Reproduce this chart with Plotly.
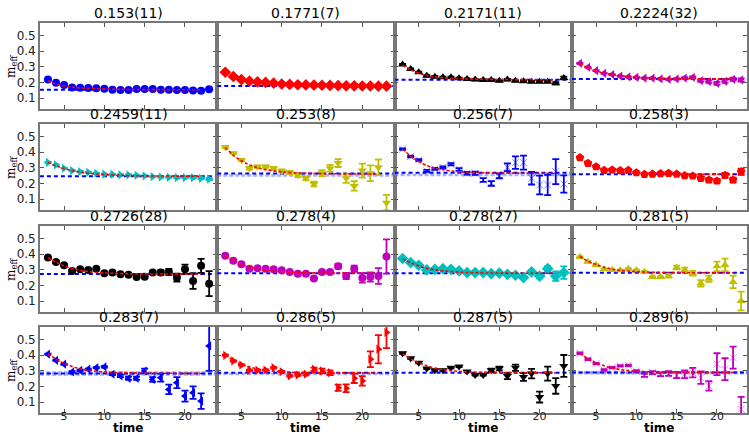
import plotly.graph_objects as go

times = list(range(3, 24))
titles = ["0.153(11)", "0.1771(7)", "0.2171(11)", "0.2224(32)",
          "0.2459(11)", "0.253(8)", "0.256(7)", "0.258(3)",
          "0.2726(28)", "0.278(4)", "0.278(27)", "0.281(5)",
          "0.283(7)", "0.286(5)", "0.287(5)", "0.289(6)"]

m1 = [0.218, 0.198, 0.183, 0.168, 0.166, 0.164, 0.162, 0.160, 0.153, 0.151, 0.151, 0.158, 0.158, 0.158, 0.153, 0.153, 0.151, 0.151, 0.149, 0.147, 0.156]
e1 = [0.002] * 18 + [0.003, 0.003, 0.004]
m2 = [0.265, 0.238, 0.218, 0.208, 0.203, 0.200, 0.195, 0.190, 0.187, 0.185, 0.184, 0.183, 0.182, 0.181, 0.180, 0.178, 0.178, 0.177, 0.177, 0.176, 0.176]
e2 = [0.002] * 21
m3 = [0.314, 0.286, 0.265, 0.243, 0.237, 0.233, 0.233, 0.226, 0.222, 0.218, 0.216, 0.216, 0.211, 0.218, 0.211, 0.207, 0.205, 0.205, 0.205, 0.194, 0.228]
e3 = [0.004] * 18 + [0.005, 0.007, 0.009]
m4 = [0.322, 0.297, 0.275, 0.258, 0.250, 0.241, 0.235, 0.233, 0.228, 0.228, 0.222, 0.220, 0.222, 0.228, 0.233, 0.211, 0.205, 0.194, 0.207, 0.220, 0.216]
e4 = [0.003] * 12 + [0.004, 0.005, 0.005, 0.007, 0.008, 0.009, 0.01, 0.01, 0.01]
m5 = [0.335, 0.318, 0.297, 0.282, 0.275, 0.271, 0.265, 0.260, 0.258, 0.254, 0.254, 0.252, 0.248, 0.243, 0.241, 0.239, 0.237, 0.237, 0.237, 0.233, 0.228]
e5 = [0.003] * 16 + [0.004, 0.004, 0.005, 0.005, 0.006]
m6 = [0.432, 0.393, 0.350, 0.297, 0.307, 0.307, 0.297, 0.280, 0.270, 0.252, 0.233, 0.196, 0.265, 0.297, 0.330, 0.233, 0.184, 0.282, 0.265, 0.303, 0.077]
e6 = [0.006, 0.006, 0.007, 0.008, 0.008, 0.008, 0.009, 0.010, 0.010, 0.012, 0.012, 0.015, 0.020, 0.022, 0.025, 0.030, 0.030, 0.045, 0.050, 0.050, 0.050]
m7 = [0.419, 0.372, 0.350, 0.280, 0.293, 0.303, 0.322, 0.290, 0.265, 0.265, 0.222, 0.200, 0.248, 0.303, 0.333, 0.333, 0.233, 0.190, 0.190, 0.275, 0.196]
e7 = [0.005, 0.005, 0.005, 0.006, 0.006, 0.006, 0.007, 0.008, 0.008, 0.010, 0.012, 0.015, 0.015, 0.025, 0.040, 0.045, 0.040, 0.060, 0.065, 0.080, 0.055]
m8 = [0.365, 0.329, 0.307, 0.284, 0.286, 0.282, 0.284, 0.269, 0.258, 0.260, 0.263, 0.265, 0.260, 0.250, 0.248, 0.233, 0.222, 0.216, 0.252, 0.222, 0.275]
e8 = [0.004] * 14 + [0.008, 0.010, 0.012, 0.012, 0.015, 0.015, 0.020]
m9 = [0.378, 0.350, 0.329, 0.293, 0.303, 0.299, 0.307, 0.278, 0.282, 0.271, 0.269, 0.254, 0.256, 0.282, 0.282, 0.286, 0.250, 0.303, 0.228, 0.325, 0.211]
e9 = [0.005] * 13 + [0.010, 0.015, 0.020, 0.025, 0.030, 0.050, 0.045, 0.080, 0.080]
m10 = [0.389, 0.357, 0.335, 0.307, 0.310, 0.307, 0.303, 0.297, 0.286, 0.275, 0.275, 0.245, 0.286, 0.286, 0.322, 0.260, 0.307, 0.248, 0.254, 0.260, 0.385]
e10 = [0.005] * 13 + [0.010, 0.015, 0.020, 0.020, 0.030, 0.030, 0.050, 0.110]
m11 = [0.372, 0.346, 0.329, 0.299, 0.303, 0.307, 0.303, 0.293, 0.282, 0.282, 0.282, 0.275, 0.278, 0.271, 0.265, 0.250, 0.286, 0.260, 0.307, 0.260, 0.282]
e11 = [0.004] * 16 + [0.010, 0.015, 0.015, 0.030, 0.040]
m12 = [0.382, 0.352, 0.331, 0.303, 0.299, 0.297, 0.307, 0.297, 0.288, 0.254, 0.254, 0.260, 0.314, 0.299, 0.278, 0.213, 0.243, 0.322, 0.331, 0.222, 0.100]
e12 = [0.004] * 11 + [0.010, 0.012, 0.015, 0.015, 0.020, 0.020, 0.030, 0.040, 0.040, 0.060]
m13 = [0.406, 0.367, 0.342, 0.293, 0.303, 0.310, 0.320, 0.325, 0.278, 0.267, 0.252, 0.252, 0.299, 0.245, 0.256, 0.181, 0.224, 0.138, 0.160, 0.106, 0.459]
e13 = [0.004] * 8 + [0.006, 0.008, 0.010, 0.010, 0.015, 0.015, 0.025, 0.030, 0.035, 0.035, 0.040, 0.050, 0.160]
m14 = [0.399, 0.363, 0.337, 0.303, 0.303, 0.305, 0.320, 0.295, 0.267, 0.273, 0.278, 0.310, 0.299, 0.288, 0.192, 0.188, 0.252, 0.235, 0.374, 0.438, 0.545]
e14 = [0.004] * 9 + [0.006, 0.008, 0.010, 0.015, 0.015, 0.020, 0.025, 0.030, 0.030, 0.050, 0.090, 0.100]
m15 = [0.412, 0.380, 0.352, 0.314, 0.303, 0.303, 0.320, 0.327, 0.295, 0.273, 0.273, 0.303, 0.314, 0.267, 0.320, 0.260, 0.282, 0.132, 0.282, 0.203, 0.331]
e15 = [0.004] * 11 + [0.010, 0.012, 0.020, 0.020, 0.025, 0.030, 0.035, 0.045, 0.050, 0.070]
m16 = [0.412, 0.374, 0.346, 0.305, 0.320, 0.331, 0.335, 0.299, 0.271, 0.288, 0.278, 0.282, 0.273, 0.278, 0.288, 0.256, 0.203, 0.342, 0.310, 0.384, 0.053]
e16 = [0.005] * 8 + [0.010, 0.010, 0.012, 0.015, 0.020, 0.025, 0.030, 0.040, 0.030, 0.070, 0.070, 0.070, 0.080]

values = [m1, m2, m3, m4, m5, m6, m7, m8, m9, m10, m11, m12, m13, m14, m15, m16]
errors = [e1, e2, e3, e4, e5, e6, e7, e8, e9, e10, e11, e12, e13, e14, e15, e16]

# fitted curve
fit_times = [3, 4, 5, 6, 7, 8, 10, 13, 22]
fits = [
    [0.210, 0.190, 0.178, 0.170, 0.165, 0.162, 0.158, 0.155, 0.153],
    [0.262, 0.235, 0.215, 0.203, 0.196, 0.190, 0.184, 0.180, 0.177],
    [0.310, 0.280, 0.260, 0.245, 0.236, 0.230, 0.224, 0.220, 0.217],
    [0.320, 0.295, 0.275, 0.260, 0.250, 0.243, 0.233, 0.227, 0.222],
    [0.335, 0.312, 0.295, 0.282, 0.272, 0.265, 0.256, 0.250, 0.246],
    [0.430, 0.380, 0.345, 0.318, 0.300, 0.288, 0.274, 0.265, 0.260],
    [0.420, 0.375, 0.340, 0.315, 0.298, 0.287, 0.275, 0.268, 0.265],
    [0.360, 0.330, 0.306, 0.290, 0.279, 0.272, 0.265, 0.261, 0.258],
    [0.378, 0.348, 0.325, 0.308, 0.296, 0.289, 0.280, 0.275, 0.272],
    [0.390, 0.360, 0.335, 0.318, 0.305, 0.296, 0.287, 0.281, 0.278],
    [0.370, 0.345, 0.325, 0.310, 0.300, 0.293, 0.285, 0.280, 0.278],
    [0.385, 0.355, 0.333, 0.316, 0.304, 0.296, 0.288, 0.283, 0.281],
    [0.410, 0.375, 0.348, 0.328, 0.313, 0.303, 0.293, 0.287, 0.283],
    [0.400, 0.368, 0.343, 0.325, 0.312, 0.303, 0.294, 0.289, 0.286],
    [0.410, 0.378, 0.352, 0.332, 0.317, 0.307, 0.296, 0.290, 0.287],
    [0.410, 0.378, 0.352, 0.332, 0.318, 0.308, 0.297, 0.292, 0.289],
]

# horizontal reference lines (dark) and secondary lines (light)
plateau_lines = [0.153, 0.1771, 0.2171, 0.2224, 0.2459, 0.264, 0.268, 0.258,
                 0.2726, 0.278, 0.278, 0.281, 0.283, 0.288, 0.287, 0.289]
band_lines = [[], [], [], [], [], [0.250], [0.254], [],
              [], [], [], [], [0.277, 0.289], [0.279], [], [0.284, 0.293]]

symbols = ["circle", "diamond", "triangle-up", "triangle-left",
           "triangle-right", "triangle-down", "x-thin", "pentagon",
           "circle", "circle", "diamond", "triangle-up",
           "triangle-left", "triangle-right", "triangle-down", "x-thin"]
colors = ["#0000ff", "#ff0000", "#000000", "#bf00bf",
          "#00bfbf", "#bfbf00", "#0000ff", "#ff0000",
          "#000000", "#bf00bf", "#00bfbf", "#bfbf00",
          "#0000ff", "#ff0000", "#000000", "#bf00bf"]
sizes = [8, 9, 8, 8, 8, 8, 7, 9, 8, 8, 9, 8, 8, 8, 8, 7]

W, H = 749, 436
col_left = [40.0, 217.8, 395.6, 573.4]
col_right = [217.8, 395.6, 573.4, 749.0]
px_per_t = 177.8 / 22.0
row_top = [23, 124, 226, 327]
row_h = 86
YR = [0.03, 0.58]

fig = go.Figure()
layout = {}
annotations = []
for i in range(16):
    r, c = divmod(i, 4)
    n = i + 1
    xa = "x" if n == 1 else f"x{n}"
    ya = "y" if n == 1 else f"y{n}"
    xkey = "xaxis" if n == 1 else f"xaxis{n}"
    ykey = "yaxis" if n == 1 else f"yaxis{n}"
    x0 = col_left[c] / W
    x1 = col_right[c] / W
    y1 = (H - row_top[r]) / H
    y0 = (H - row_top[r] - row_h) / H
    xmax = 2 + (col_right[c] - col_left[c]) / px_per_t
    layout[xkey] = dict(domain=[x0, x1], anchor=ya, range=[2, xmax],
                        tickvals=[5, 10, 15, 20], showticklabels=(r == 3),
                        ticks="inside", ticklen=4, tickcolor="#555", tickwidth=1,
                        showline=True, mirror="ticks", linecolor="#777", linewidth=1.5,
                        showgrid=False, zeroline=False, ticklabelstandoff=-8,
                        tickfont=dict(family="DejaVu Sans", size=11, color="#222"))
    layout[ykey] = dict(domain=[y0, y1], anchor=xa, range=YR,
                        tickvals=[0.1, 0.2, 0.3, 0.4, 0.5], showticklabels=(c == 0),
                        ticks="inside", ticklen=4, tickcolor="#555", tickwidth=1,
                        showline=True, mirror="ticks", linecolor="#777", linewidth=1.5,
                        showgrid=False, zeroline=False,
                        tickfont=dict(family="DejaVu Sans", size=12, color="#222"))
    xr = [2, xmax]
    for bl in band_lines[i]:
        fig.add_trace(go.Scatter(x=xr, y=[bl, bl], mode="lines", xaxis=xa, yaxis=ya,
                                 line=dict(color="rgba(90,110,255,0.55)", width=2.5, dash="4px,2px"),
                                 showlegend=False, hoverinfo="skip"))
    pl = plateau_lines[i]
    fig.add_trace(go.Scatter(x=xr, y=[pl, pl], mode="lines", xaxis=xa, yaxis=ya,
                             line=dict(color="#0000ff", width=2, dash="4px,3px"),
                             showlegend=False, hoverinfo="skip"))
    sym = symbols[i]
    if sym.startswith("x-thin"):
        marker = dict(symbol=sym, size=sizes[i], color=colors[i],
                      line=dict(color=colors[i], width=1), opacity=0.45)
    else:
        marker = dict(symbol=sym, size=sizes[i], color=colors[i], line=dict(width=0))
    fig.add_trace(go.Scatter(x=times, y=values[i], mode="markers", xaxis=xa, yaxis=ya,
                             marker=marker,
                             error_y=dict(type="data", array=errors[i], color=colors[i],
                                          thickness=1.8, width=3.5),
                             showlegend=False, cliponaxis=True))
    fig.add_trace(go.Scatter(x=fit_times, y=fits[i], mode="lines", xaxis=xa, yaxis=ya,
                             line=dict(color="#ff0000", width=1.6, dash="3px,2px", shape="spline"),
                             showlegend=False, hoverinfo="skip"))
    annotations.append(dict(text=titles[i], xref="paper", yref="paper",
                            x=(x0 + x1) / 2, y=y1, xanchor="center", yanchor="bottom",
                            yshift=0, showarrow=False,
                            font=dict(family="DejaVu Sans", size=14, color="#000")))
    if c == 0:
        annotations.append(dict(text="m<sub>eff</sub>", xref="paper", yref="paper",
                                x=12 / W, y=(y0 + y1) / 2, xanchor="center", yanchor="middle",
                                textangle=-90, showarrow=False,
                                font=dict(family="DejaVu Serif", size=12, color="#000")))
    if r == 3:
        annotations.append(dict(text="<b>time</b>", xref="paper", yref="paper",
                                x=(x0 + x1) / 2, y=0, xanchor="center", yanchor="bottom",
                                yshift=0, showarrow=False, borderpad=0,
                                font=dict(family="DejaVu Sans", size=12, color="#000")))

fig.update_layout(**layout)
fig.update_layout(width=W, height=H, margin=dict(l=0, r=0, t=0, b=0),
                  paper_bgcolor="white", plot_bgcolor="white",
                  annotations=annotations, showlegend=False)
fig.write_html("out.html")
